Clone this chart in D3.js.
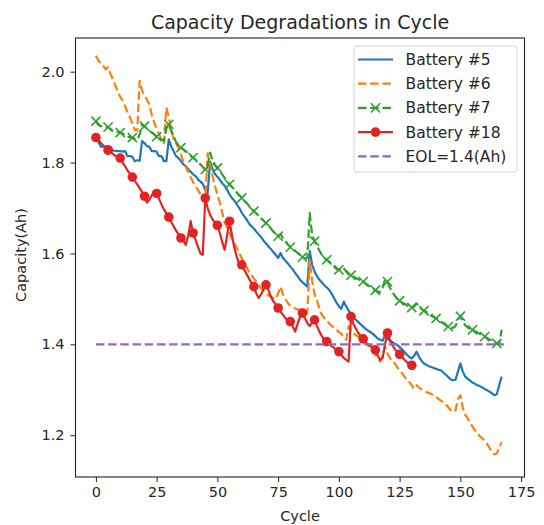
<!DOCTYPE html>
<html><head><meta charset="utf-8">
<script src="https://cdn.jsdelivr.net/npm/d3@7/dist/d3.min.js"></script>
<style>
body{margin:0;background:#fff}
svg text{font-family:"DejaVu Sans",sans-serif;fill:#262626}
</style></head>
<body><svg id="chart" width="544" height="525"></svg>
<script>
// ---- data (capacity in Ah per cycle index) ----
const battery5 = [
1.856,1.846,1.835,1.835,1.835,1.836,1.835,1.826,1.826,1.825,
1.825,1.824,1.825,1.814,1.814,1.813,1.803,1.805,1.804,1.847,
1.843,1.836,1.835,1.825,1.825,1.824,1.814,1.814,1.803,1.803,
1.851,1.835,1.825,1.814,1.810,1.803,1.796,1.792,1.785,1.780,
1.774,1.770,1.763,1.758,1.753,1.740,1.733,1.802,1.786,1.775,
1.769,1.762,1.754,1.749,1.740,1.730,1.722,1.716,1.708,1.700,
1.690,1.682,1.675,1.666,1.660,1.655,1.648,1.642,1.636,1.628,
1.622,1.616,1.610,1.603,1.597,1.590,1.601,1.590,1.584,1.578,
1.571,1.565,1.557,1.550,1.542,1.537,1.532,1.527,1.605,1.575,
1.560,1.550,1.542,1.536,1.530,1.525,1.520,1.512,1.502,1.492,
1.484,1.478,1.494,1.484,1.474,1.466,1.459,1.454,1.449,1.444,
1.439,1.434,1.430,1.427,1.423,1.418,1.413,1.410,1.408,1.420,
1.413,1.408,1.405,1.401,1.399,1.394,1.389,1.383,1.377,1.372,
1.369,1.375,1.384,1.372,1.364,1.358,1.355,1.352,1.350,1.348,
1.346,1.344,1.343,1.338,1.333,1.328,1.323,1.321,1.322,1.340,
1.358,1.340,1.329,1.324,1.320,1.316,1.313,1.310,1.308,1.305,
1.302,1.299,1.296,1.292,1.288,1.290,1.310,1.329];
const battery6 = [
2.035,2.025,2.018,2.013,2.005,2.010,1.995,1.983,1.970,1.955,
1.945,1.936,1.925,1.910,1.900,1.886,1.872,1.870,1.980,1.958,
1.948,1.938,1.928,1.905,1.888,1.875,1.862,1.850,1.843,1.921,
1.900,1.873,1.852,1.842,1.832,1.818,1.800,1.790,1.780,1.768,
1.757,1.748,1.740,1.730,1.720,1.715,1.820,1.795,1.770,1.748,
1.730,1.712,1.690,1.668,1.657,1.645,1.632,1.622,1.612,1.600,
1.590,1.580,1.570,1.560,1.552,1.545,1.538,1.530,1.524,1.518,
1.513,1.508,1.505,1.502,1.500,1.512,1.527,1.510,1.500,1.491,
1.485,1.482,1.479,1.477,1.476,1.473,1.470,1.468,1.586,1.540,
1.510,1.496,1.478,1.465,1.458,1.452,1.446,1.441,1.437,1.432,
1.427,1.423,1.415,1.410,1.440,1.430,1.425,1.420,1.417,1.413,
1.408,1.403,1.398,1.393,1.385,1.377,1.370,1.362,1.375,1.395,
1.380,1.370,1.363,1.358,1.350,1.343,1.336,1.329,1.323,1.317,
1.310,1.302,1.310,1.305,1.301,1.298,1.295,1.293,1.291,1.288,
1.284,1.280,1.276,1.272,1.268,1.262,1.255,1.251,1.255,1.280,
1.288,1.260,1.245,1.237,1.228,1.219,1.211,1.204,1.198,1.193,
1.189,1.181,1.172,1.163,1.158,1.160,1.172,1.185];
const battery7 = [
1.891,1.883,1.880,1.880,1.879,1.878,1.874,1.870,1.869,1.867,
1.866,1.864,1.860,1.857,1.856,1.855,1.852,1.850,1.862,1.884,
1.880,1.875,1.870,1.866,1.862,1.857,1.853,1.850,1.848,1.875,
1.884,1.870,1.857,1.845,1.839,1.833,1.829,1.825,1.820,1.815,
1.811,1.806,1.801,1.796,1.790,1.785,1.795,1.822,1.805,1.795,
1.788,1.781,1.774,1.766,1.759,1.752,1.746,1.740,1.734,1.728,
1.722,1.716,1.711,1.705,1.699,1.693,1.688,1.683,1.677,1.672,
1.667,1.661,1.655,1.648,1.643,1.638,1.642,1.634,1.627,1.620,
1.614,1.611,1.606,1.601,1.597,1.592,1.589,1.590,1.689,1.640,
1.627,1.616,1.606,1.597,1.590,1.586,1.582,1.577,1.572,1.566,
1.564,1.567,1.568,1.560,1.554,1.552,1.549,1.546,1.543,1.540,
1.538,1.534,1.530,1.527,1.523,1.519,1.516,1.515,1.525,1.542,
1.538,1.525,1.515,1.507,1.500,1.496,1.492,1.489,1.486,1.483,
1.481,1.484,1.490,1.483,1.478,1.474,1.471,1.467,1.463,1.460,
1.457,1.454,1.450,1.446,1.442,1.439,1.437,1.436,1.440,1.455,
1.462,1.450,1.442,1.437,1.434,1.432,1.429,1.426,1.423,1.420,
1.417,1.414,1.411,1.408,1.405,1.402,1.401,1.432];
const battery18 = [
1.855,1.850,1.843,1.838,1.832,1.827,1.823,1.819,1.815,1.812,
1.810,1.800,1.792,1.783,1.775,1.768,1.760,1.752,1.744,1.735,
1.726,1.712,1.718,1.728,1.735,1.732,1.720,1.708,1.697,1.688,
1.680,1.670,1.660,1.650,1.642,1.634,1.628,1.619,1.640,1.671,
1.645,1.630,1.615,1.600,1.597,1.722,1.700,1.685,1.675,1.668,
1.662,1.645,1.625,1.608,1.640,1.671,1.640,1.612,1.592,1.577,
1.575,1.565,1.555,1.545,1.535,1.527,1.512,1.502,1.510,1.522,
1.531,1.520,1.505,1.495,1.488,1.480,1.472,1.465,1.458,1.452,
1.450,1.440,1.428,1.445,1.460,1.469,1.458,1.447,1.440,1.448,
1.454,1.440,1.428,1.418,1.410,1.406,1.400,1.396,1.392,1.388,
1.384,1.377,1.370,1.366,1.362,1.461,1.445,1.435,1.425,1.418,
1.412,1.405,1.400,1.396,1.392,1.388,1.375,1.366,1.370,1.400,
1.425,1.410,1.398,1.390,1.383,1.378,1.372,1.366,1.361,1.357,
1.354,1.345];
const eolLevel = 1.4;
const eolCycles = [0, 168];
const seriesNames = ["Battery #5","Battery #6","Battery #7","Battery #18","EOL=1.4(Ah)"];
const xTicks = [0,25,50,75,100,125,150,175];
const yTicks = [1.2,1.4,1.6,1.8,2.0];
const titleText = "Capacity Degradations in Cycle";
const xLabel = "Cycle";
const yLabel = "Capacity(Ah)";

// ---- layout ----
const svg = d3.select("#chart");
const L = 75.5, R = 524.5, T = 38, B = 477;
const x = d3.scaleLinear().domain([-8.4, 176.4]).range([L, R]);
const y = d3.scaleLinear().domain([1.1081, 2.0741]).range([B, T]);

const colors = {b5:"#1f77b4", b6:"#ff7f0e", b7:"#2ca02c", b18:"#e02424", eol:"#9467bd"};
const LW = 2.2, DASH = "8.5,3.7";

const line = d3.line().x((d,i)=>x(i)).y(d=>y(d));
const g = svg.append("g");

function drawLine(data, color, dash){
  g.append("path").datum(data).attr("d", line).attr("fill","none")
   .attr("stroke", color).attr("stroke-width", LW).attr("stroke-linejoin","round")
   .attr("stroke-dasharray", dash || null);
}
function xMark(sel, cx, cy, color){
  const s = 4.6;
  sel.append("path").attr("d",`M${cx-s},${cy-s}L${cx+s},${cy+s}M${cx-s},${cy+s}L${cx+s},${cy-s}`)
    .attr("stroke", color).attr("stroke-width",1.6).attr("fill","none");
}

drawLine(battery5, colors.b5);
drawLine(battery6, colors.b6, DASH);
drawLine(battery7, colors.b7, DASH);
battery7.forEach((v,i)=>{ if(i%5===0) xMark(g, x(i), y(v), colors.b7); });
drawLine(battery18, colors.b18);
g.selectAll("circle.m18").data(battery18.map((v,i)=>[i,v]).filter(d=>d[0]%5===0))
  .enter().append("circle").attr("cx",d=>x(d[0])).attr("cy",d=>y(d[1])).attr("r",4.8)
  .attr("fill",colors.b18);
g.append("path").datum(eolCycles).attr("d", d3.line().x(d=>x(d)).y(()=>y(eolLevel)))
  .attr("stroke",colors.eol).attr("stroke-width",LW).attr("stroke-dasharray",DASH).attr("fill","none");

// ---- axes ----
const xa = svg.append("g").attr("transform",`translate(0,${B})`)
  .call(d3.axisBottom(x).tickValues(xTicks).tickSize(5).tickPadding(5).tickFormat(d3.format("d")));
const ya = svg.append("g").attr("transform",`translate(${L},0)`)
  .call(d3.axisLeft(y).tickValues(yTicks).tickSize(5).tickPadding(6).tickFormat(d3.format(".1f")));
[xa,ya].forEach(a=>{
  a.select(".domain").remove();
  a.selectAll(".tick line").attr("stroke","#222").attr("stroke-width",1);
  a.selectAll(".tick text").attr("font-size",14.5).attr("fill","#262626").attr("font-family","DejaVu Sans, sans-serif");
});
svg.append("rect").attr("x",L).attr("y",T).attr("width",R-L).attr("height",B-T)
  .attr("fill","none").attr("stroke","#222").attr("stroke-width",1.1);

// ---- labels ----
svg.append("text").attr("x",(L+R)/2).attr("y",29).attr("text-anchor","middle")
  .attr("font-size",19).text(titleText);
svg.append("text").attr("x",(L+R)/2).attr("y",521).attr("text-anchor","middle")
  .attr("font-size",14.5).text(xLabel);
svg.append("text").attr("transform","translate(26,255) rotate(-90)").attr("text-anchor","middle")
  .attr("font-size",14.5).text(yLabel);

// ---- legend ----
const lg = svg.append("g");
lg.append("rect").attr("x",354).attr("y",46).attr("width",163).attr("height",126).attr("rx",3)
  .attr("fill","#fff").attr("fill-opacity",0.85).attr("stroke","#d4d4d4").attr("stroke-width",1);
const legendItems = [
  {c:colors.b5, dash:null, m:null},
  {c:colors.b6, dash:DASH, m:null},
  {c:colors.b7, dash:DASH, m:"x"},
  {c:colors.b18, dash:null, m:"o"},
  {c:colors.eol, dash:DASH, m:null}];
legendItems.forEach((it,i)=>{
  const cy = 59.5 + i*24.2;
  lg.append("line").attr("x1",358).attr("x2",393).attr("y1",cy).attr("y2",cy)
    .attr("stroke",it.c).attr("stroke-width",LW).attr("stroke-dasharray",it.dash);
  if(it.m==="x") xMark(lg, 375.5, cy, it.c);
  if(it.m==="o") lg.append("circle").attr("cx",375.5).attr("cy",cy).attr("r",4.8).attr("fill",it.c);
  lg.append("text").attr("x",405.5).attr("y",cy+5.5).attr("font-size",15.5).text(seriesNames[i]);
});
</script></body></html>
